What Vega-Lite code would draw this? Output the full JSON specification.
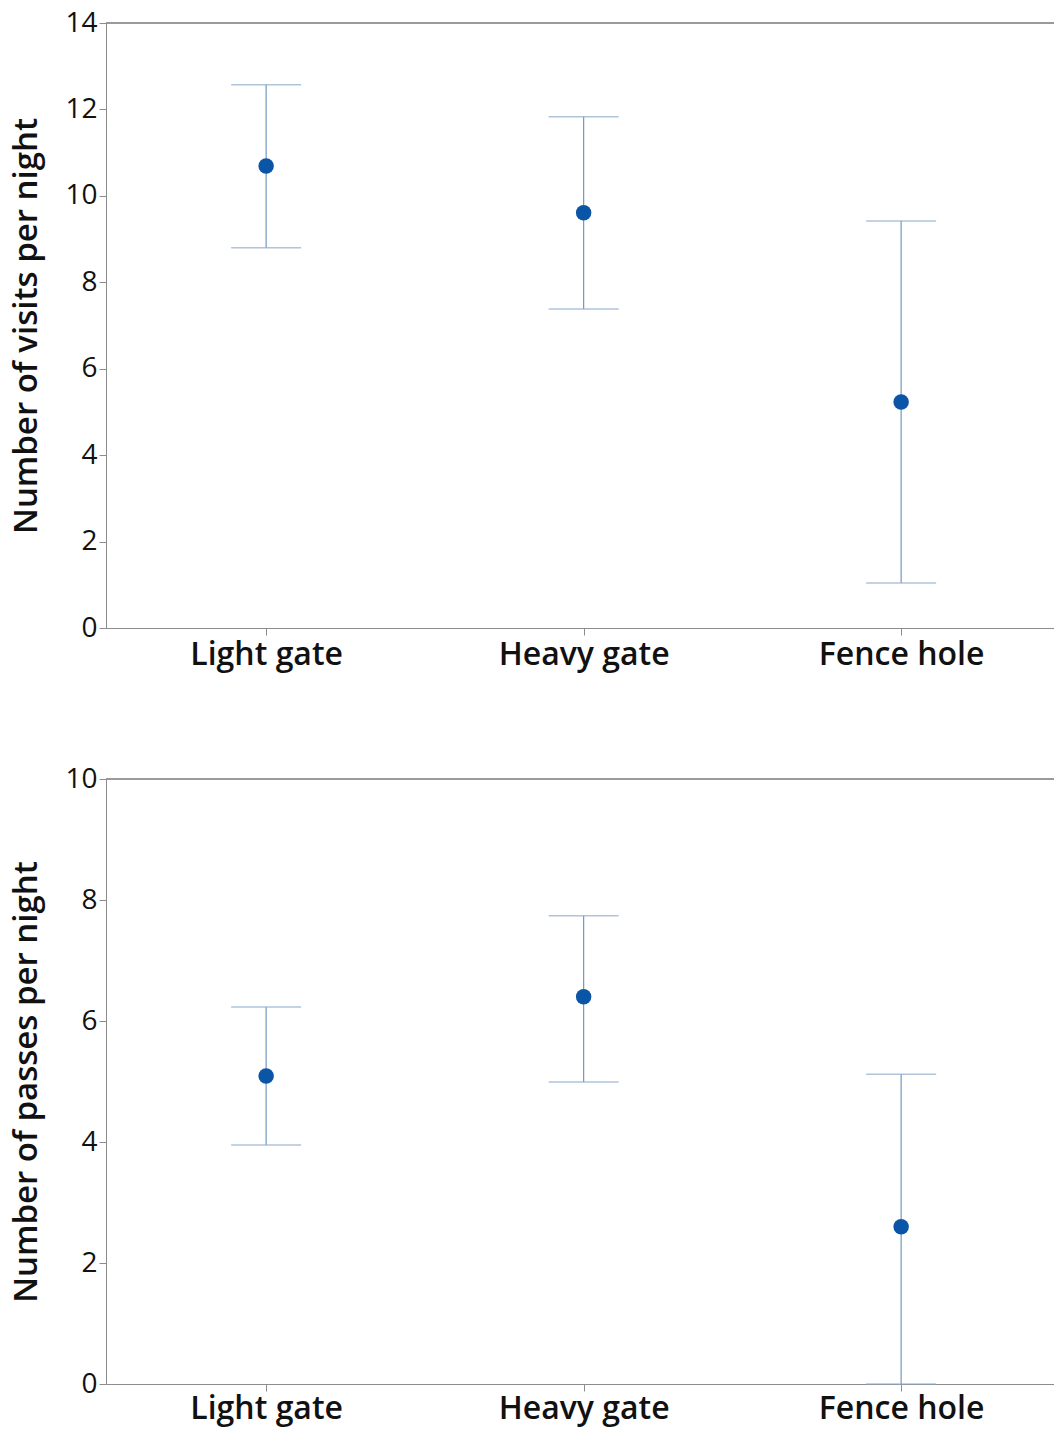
{
  "$schema": "https://vega.github.io/schema/vega-lite/v6.json",
  "padding": {"left": 10, "top": 9, "right": 0, "bottom": 6},
  "background": "white",
  "spacing": 95,
  "config": {
    "view": {"stroke": null},
    "font": "Open Sans",
    "axis": {
      "domainColor": "#8c8c8c",
      "tickColor": "#8c8c8c",
      "labelColor": "#111111",
      "titleColor": "#111111",
      "labelFont": "Open Sans",
      "titleFont": "Open Sans",
      "grid": false
    }
  },
  "datasets": {
    "visits": [
      {"site": "Light gate", "mean": 10.69, "lower": 8.80, "upper": 12.57},
      {"site": "Heavy gate", "mean": 9.61, "lower": 7.38, "upper": 11.83},
      {"site": "Fence hole", "mean": 5.23, "lower": 1.04, "upper": 9.42}
    ],
    "passes": [
      {"site": "Light gate", "mean": 5.09, "lower": 3.95, "upper": 6.23},
      {"site": "Heavy gate", "mean": 6.40, "lower": 4.99, "upper": 7.74},
      {"site": "Fence hole", "mean": 2.60, "lower": 0.0, "upper": 5.12}
    ]
  },
  "vconcat": [
    {
      "width": 949,
      "height": 605,
      "data": {"name": "visits"},
      "layer": [
        {
          "mark": {"type": "rule", "color": "#7398bd", "strokeWidth": 1.2},
          "encoding": {
            "x": {
              "field": "site", "type": "nominal", "sort": null,
              "scale": {"type": "point", "padding": 0.4945, "align": 0.51},
              "axis": {"title": null, "labelAngle": 0, "labelFontSize": 32, "labelFontWeight": 600, "tickSize": 7, "labelPadding": 4}
            },
            "y": {"field": "lower", "type": "quantitative",
              "scale": {"domain": [0, 14], "nice": false},
              "axis": {"title": "Number of visits per night", "titleFontSize": 33, "titleFontWeight": 600, "labelFontSize": 28, "labelFontWeight": 500, "values": [0,2,4,6,8,10,12,14], "format": "d", "tickSize": 7, "labelPadding": 2, "titlePadding": 23, "minExtent": 40, "maxExtent": 40}},
            "y2": {"field": "upper"}
          }
        },
        {
          "mark": {"type": "tick", "color": "#8fadca", "size": 70, "thickness": 1.5, "orient": "horizontal"},
          "encoding": {"x": {"field": "site", "type": "nominal", "sort": null}, "y": {"field": "lower", "type": "quantitative"}}
        },
        {
          "mark": {"type": "tick", "color": "#8fadca", "size": 70, "thickness": 1.5, "orient": "horizontal"},
          "encoding": {"x": {"field": "site", "type": "nominal", "sort": null}, "y": {"field": "upper", "type": "quantitative"}}
        },
        {
          "mark": {"type": "point", "filled": true, "color": "#0b55a6", "size": 240, "opacity": 1},
          "encoding": {"x": {"field": "site", "type": "nominal", "sort": null}, "y": {"field": "mean", "type": "quantitative"}}
        },
        {
          "mark": {"type": "rule", "color": "#8c8c8c", "strokeWidth": 1},
          "encoding": {"y": {"datum": 14}}
        }
      ]
    },
    {
      "width": 949,
      "height": 605,
      "data": {"name": "passes"},
      "layer": [
        {
          "mark": {"type": "rule", "color": "#7398bd", "strokeWidth": 1.2},
          "encoding": {
            "x": {
              "field": "site", "type": "nominal", "sort": null,
              "scale": {"type": "point", "padding": 0.4945, "align": 0.51},
              "axis": {"title": null, "labelAngle": 0, "labelFontSize": 32, "labelFontWeight": 600, "tickSize": 7, "labelPadding": 2}
            },
            "y": {"field": "lower", "type": "quantitative",
              "scale": {"domain": [0, 10], "nice": false},
              "axis": {"title": "Number of passes per night", "titleFontSize": 33, "titleFontWeight": 600, "labelFontSize": 28, "labelFontWeight": 500, "values": [0,2,4,6,8,10], "format": "d", "tickSize": 7, "labelPadding": 2, "titlePadding": 23, "minExtent": 40, "maxExtent": 40}},
            "y2": {"field": "upper"}
          }
        },
        {
          "mark": {"type": "tick", "color": "#8fadca", "size": 70, "thickness": 1.5, "orient": "horizontal"},
          "encoding": {"x": {"field": "site", "type": "nominal", "sort": null}, "y": {"field": "lower", "type": "quantitative"}}
        },
        {
          "mark": {"type": "tick", "color": "#8fadca", "size": 70, "thickness": 1.5, "orient": "horizontal"},
          "encoding": {"x": {"field": "site", "type": "nominal", "sort": null}, "y": {"field": "upper", "type": "quantitative"}}
        },
        {
          "mark": {"type": "point", "filled": true, "color": "#0b55a6", "size": 240, "opacity": 1},
          "encoding": {"x": {"field": "site", "type": "nominal", "sort": null}, "y": {"field": "mean", "type": "quantitative"}}
        },
        {
          "mark": {"type": "rule", "color": "#8c8c8c", "strokeWidth": 1},
          "encoding": {"y": {"datum": 10}}
        }
      ]
    }
  ]
}
